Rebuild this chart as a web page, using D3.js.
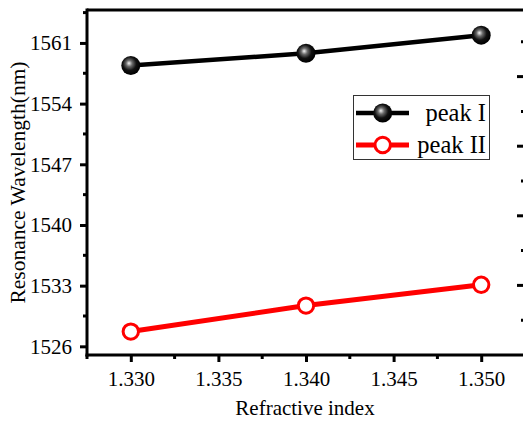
<!DOCTYPE html>
<html>
<head>
<meta charset="utf-8">
<script src="https://cdn.jsdelivr.net/npm/d3@7"></script>
<style>
  body { margin: 0; background: #fff; }
  svg text { font-family: "Liberation Serif", "Times New Roman", Tinos, "DejaVu Serif", serif !important; }
</style>
</head>
<body>
<div id="chart"></div>
<script>
// data
const refractiveIndex = [1.330, 1.340, 1.350];
const peak1 = [1558.4, 1559.8, 1561.9];
const peak2 = [1527.7, 1530.7, 1533.1];
const yTicks = [1526, 1533, 1540, 1547, 1554, 1561];
const xTicks = [1.330, 1.335, 1.340, 1.345, 1.350];
const seriesNames = ["peak I", "peak II"];

const W = 523, H = 421;
const mLeft = 87, mRight = 525, mTop = 10, mBottom = 355;

const svg = d3.select("#chart").append("svg")
  .attr("width", W)
  .attr("height", H);

const x = d3.scaleLinear().domain([1.3275, 1.3525]).range([mLeft, mRight]);
const y = d3.scaleLinear().domain([1525, 1564.8]).range([mBottom, mTop]);
// right-hand axis has its own spacing in the original
const yR = d3.scaleLinear().domain([0, 9.914]).range([mBottom, mTop]);

const defs = svg.append("defs");
const grad = defs.append("radialGradient")
  .attr("id", "ball")
  .attr("cx", "45%").attr("cy", "42%").attr("r", "55%")
  .attr("fx", "40%").attr("fy", "38%");
grad.append("stop").attr("offset", "0%").attr("stop-color", "#f4f4f4");
grad.append("stop").attr("offset", "30%").attr("stop-color", "#6a6a6a");
grad.append("stop").attr("offset", "65%").attr("stop-color", "#111");
grad.append("stop").attr("offset", "100%").attr("stop-color", "#000");

// frame: top line
svg.append("line")
  .attr("x1", mLeft).attr("x2", W).attr("y1", mTop).attr("y2", mTop)
  .attr("stroke", "#000").attr("stroke-width", 3);

// left axis
const yMinor = d3.range(1529.5, 1565, 7);
svg.append("g").selectAll("line.minor").data(yMinor).enter().append("line")
  .attr("x1", mLeft - 4).attr("x2", mLeft)
  .attr("y1", d => y(d)).attr("y2", d => y(d))
  .attr("stroke", "#000").attr("stroke-width", 3);

const yAxis = svg.append("g")
  .attr("transform", `translate(${mLeft},0)`)
  .call(d3.axisLeft(y).tickValues(yTicks).tickSize(7).tickPadding(8).tickFormat(d3.format("d")));
yAxis.attr("font-family", null).attr("font-size", 21);
yAxis.select(".domain").remove();
yAxis.selectAll(".tick line").attr("stroke-width", 3);
yAxis.selectAll(".tick text").attr("fill", "#000");
svg.append("line")
  .attr("x1", mLeft).attr("x2", mLeft).attr("y1", mTop - 1.5).attr("y2", mBottom + 1.5)
  .attr("stroke", "#000").attr("stroke-width", 3);

// bottom axis
const xMinor = d3.range(1.3275, 1.3526, 0.005);
svg.append("g").selectAll("line.minor").data(xMinor).enter().append("line")
  .attr("x1", d => x(d)).attr("x2", d => x(d))
  .attr("y1", mBottom).attr("y2", mBottom + 4)
  .attr("stroke", "#000").attr("stroke-width", 3);

const xAxis = svg.append("g")
  .attr("transform", `translate(0,${mBottom})`)
  .call(d3.axisBottom(x).tickValues(xTicks).tickSize(7).tickPadding(9).tickFormat(d3.format(".3f")));
xAxis.attr("font-family", null).attr("font-size", 21);
xAxis.select(".domain").remove();
xAxis.selectAll(".tick line").attr("stroke-width", 3);
xAxis.selectAll(".tick text").attr("fill", "#000");
svg.append("line")
  .attr("x1", mLeft - 1.5).attr("x2", W).attr("y1", mBottom).attr("y2", mBottom)
  .attr("stroke", "#000").attr("stroke-width", 3);

// right axis ticks (spine falls just off the page)
const rTicks = d3.range(1, 10);
svg.append("g").selectAll("line").data(rTicks).enter().append("line")
  .attr("x1", d => d % 2 === 0 ? mRight - 8 : mRight - 4)
  .attr("x2", mRight)
  .attr("y1", d => yR(d)).attr("y2", d => yR(d))
  .attr("stroke", "#000").attr("stroke-width", 3);

// axis titles
svg.append("text")
  .attr("x", (232 + 378) / 2).attr("y", 415)
  .attr("text-anchor", "middle")
  .attr("font-size", 21)
  .text("Refractive index");

svg.append("text")
  .attr("transform", `translate(25,${(mTop + mBottom) / 2}) rotate(-90)`)
  .attr("text-anchor", "middle")
  .attr("font-size", 21.5)
  .text("Resonance Wavelength(nm)");

// series
const line = d3.line().x(d => x(d[0])).y(d => y(d[1]));
const s1 = refractiveIndex.map((r, i) => [r, peak1[i]]);
const s2 = refractiveIndex.map((r, i) => [r, peak2[i]]);

svg.append("path").datum(s2).attr("d", line)
  .attr("fill", "none").attr("stroke", "#ff0000").attr("stroke-width", 5);
svg.append("path").datum(s1).attr("d", line)
  .attr("fill", "none").attr("stroke", "#000").attr("stroke-width", 4.5);

svg.append("g").selectAll("circle").data(s1).enter().append("circle")
  .attr("cx", d => x(d[0])).attr("cy", d => y(d[1]))
  .attr("r", 9.5).attr("fill", "url(#ball)");

svg.append("g").selectAll("circle").data(s2).enter().append("circle")
  .attr("cx", d => x(d[0])).attr("cy", d => y(d[1]))
  .attr("r", 7.7).attr("fill", "#fff").attr("stroke", "#ff0000").attr("stroke-width", 3);

// legend
const lg = svg.append("g");
lg.append("rect")
  .attr("x", 353.5).attr("y", 95.5).attr("width", 136).attr("height", 64)
  .attr("fill", "#fff").attr("stroke", "#333").attr("stroke-width", 1);

const rows = [
  { name: seriesNames[0], color: "#000", yy: 113, w: 4.5 },
  { name: seriesNames[1], color: "#ff0000", yy: 145, w: 5 }
];
rows.forEach((r, i) => {
  lg.append("line")
    .attr("x1", 356).attr("x2", 409).attr("y1", r.yy).attr("y2", r.yy)
    .attr("stroke", r.color).attr("stroke-width", r.w);
  if (i === 0) {
    lg.append("circle").attr("cx", 382.7).attr("cy", r.yy).attr("r", 9.5).attr("fill", "url(#ball)");
  } else {
    lg.append("circle").attr("cx", 382.7).attr("cy", r.yy).attr("r", 7.7)
      .attr("fill", "#fff").attr("stroke", "#ff0000").attr("stroke-width", 3);
  }
  lg.append("text")
    .attr("x", 486).attr("y", r.yy + 7.5)
    .attr("text-anchor", "end")
    .attr("font-size", 24.5)
    .text(r.name);
});
</script>
</body>
</html>
